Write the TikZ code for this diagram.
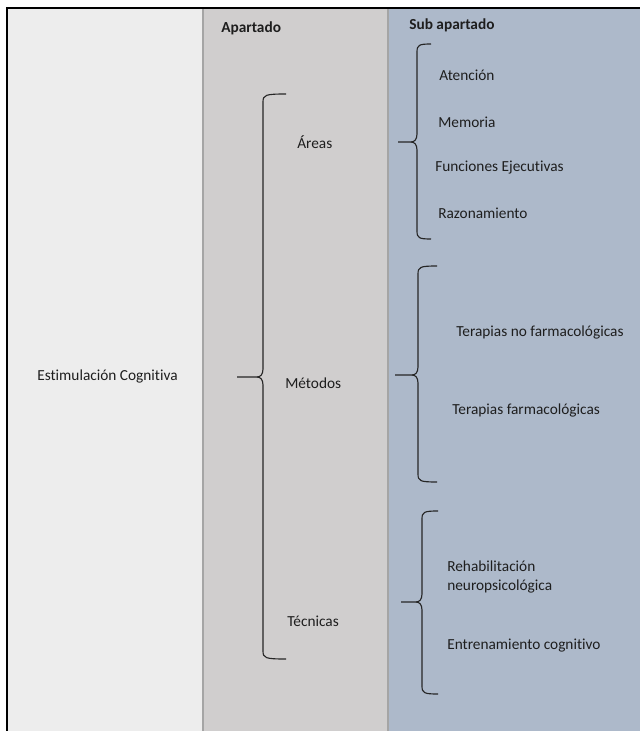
\documentclass[tikz,border=0pt]{standalone}
\usepackage{fontspec}
\setmainfont{Carlito}[Ligatures={NoCommon,NoContextual}]
\definecolor{cA}{HTML}{EDEDED}
\definecolor{cB}{HTML}{D0CECE}
\definecolor{cC}{HTML}{ADB9CA}
\definecolor{rule}{HTML}{A5A5A5}
\definecolor{ink}{HTML}{1E1E1E}
\newcommand\mybrace[6]{% xv, xr, ytop, ybot, xtip, ymid
  \draw[bracestyle] (#2,#3) .. controls (#1+2,#3) and (#1,#3+1) .. (#1,#3+8)
    -- (#1,#6-8) .. controls (#1,#6-2) and (#1-3,#6) .. (#1-6,#6) -- (#5,#6);
  \draw[bracestyle] (#1-6,#6) .. controls (#1-3,#6) and (#1,#6+2) .. (#1,#6+8)
    -- (#1,#4-8) .. controls (#1,#4-1) and (#1+2,#4) .. (#2,#4);
}
\begin{document}
\begin{tikzpicture}[x=0.75pt,y=-0.75pt,
  every node/.style={font=\fontsize{11.5}{13.5}\selectfont, text=ink, inner sep=0pt},
  hd/.style={font=\fontsize{11.5}{13.5}\selectfont\bfseries, anchor=west},
  lbl/.style={anchor=west},
  bracestyle/.style={draw=black!85, line width=0.85pt}]
\useasboundingbox (0,0) rectangle (640,731);
\fill[white] (0,0) rectangle (640,731);
\fill[cA] (7,9) rectangle (203,731);
\fill[cB] (203,9) rectangle (388,731);
\fill[cC] (388,9) rectangle (640,731);
\draw[rule, line width=1.2pt] (203,9) -- (203,731);
\draw[rule, line width=1.2pt] (388,9) -- (388,731);
\draw[black, line width=1.5pt] (6.5,731) -- (6.5,8.5) -- (640,8.5);

\node[hd] (hA) at (221,28) {Apartado};
\node[hd] (hB) at (409,25) {Sub apartado};

\node[lbl] (est) at (37,376) {Estimulación Cognitiva};
\node[lbl] (are) at (297,142) {Áreas};
\node[lbl] (met) at (285,383) {Métodos};
\node[lbl] (tec) at (287,621) {Técnicas};

\node[lbl] (ate) at (439,75) {Atención};
\node[lbl] (mem) at (438,122) {Memoria};
\node[lbl] (fun) at (435,168) {Funciones Ejecutivas};
\node[lbl] (raz) at (438,213) {Razonamiento};

\node[lbl] (tnf) at (456,332) {Terapias no farmacológicas};
\node[lbl] (tf) at (452,410) {Terapias farmacológicas};

\node[lbl] (reh) at (447,566) {Rehabilitación};
\node[lbl] (neu) at (447,586) {neuropsicológica};
\node[lbl] (ent) at (447,646) {Entrenamiento cognitivo};

\mybrace{263}{286}{94}{659}{237}{377}
\mybrace{417}{431}{44}{239}{398}{142}
\mybrace{418}{437}{266}{482}{395}{375}
\mybrace{422}{438}{511}{694}{401}{602}
\end{tikzpicture}
\end{document}
